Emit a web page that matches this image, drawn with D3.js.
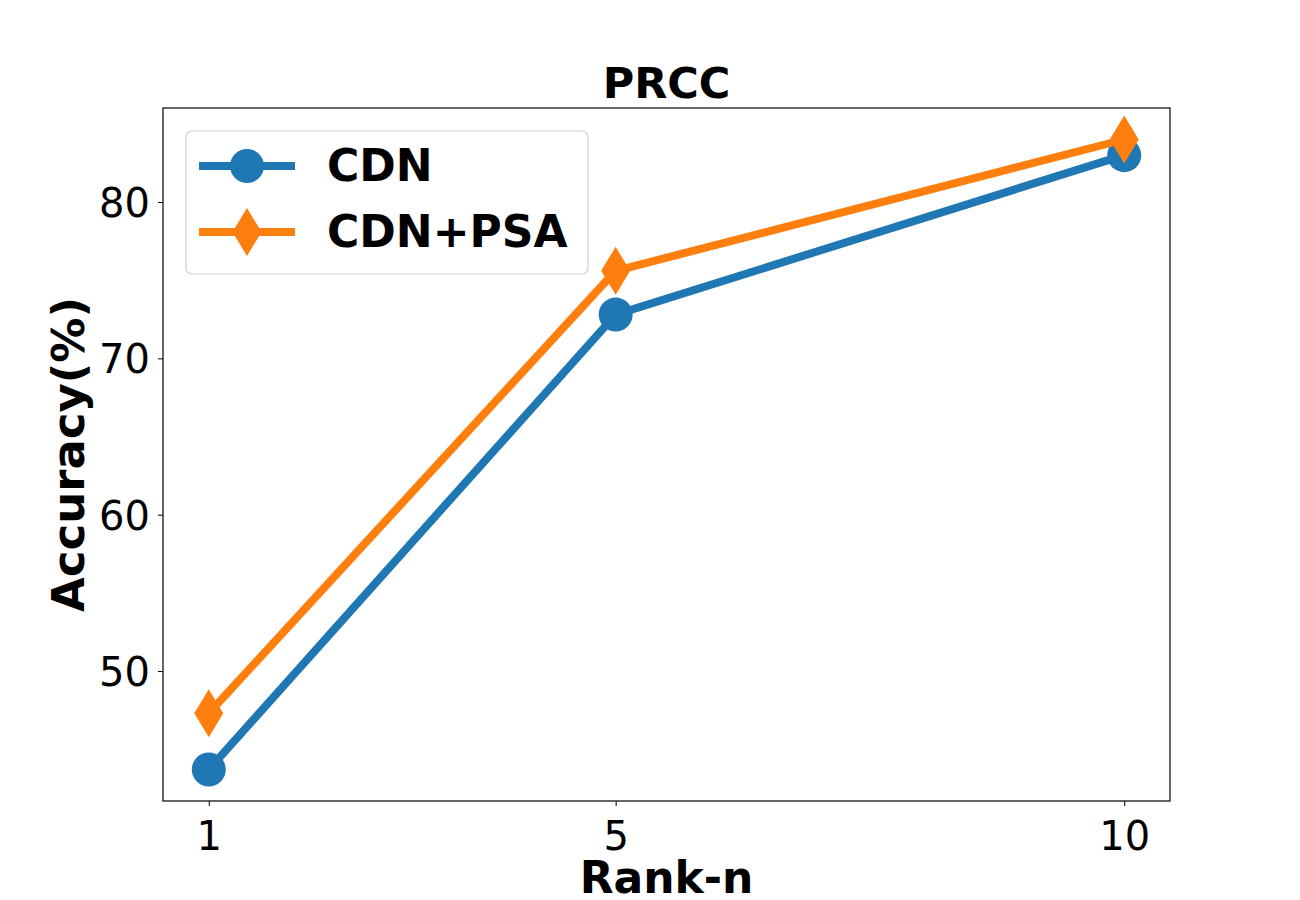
<!DOCTYPE html>
<html>
<head>
<meta charset="utf-8">
<script src="https://cdn.jsdelivr.net/npm/d3@7"></script>
<style>
  body { margin: 0; background: #fff; }
  text { font-family: "DejaVu Sans", sans-serif; }
</style>
</head>
<body>
<script>
// data
var ranks = [1, 5, 10];
var cdn = [43.7, 72.8, 83.0];
var cdnPsa = [47.3, 75.6, 84.0];
var seriesNames = ["CDN", "CDN+PSA"];
var yTicks = [50, 60, 70, 80];

var width = 1300, height = 900;
var margin = {left: 163, right: 130, top: 108, bottom: 99};

var svg = d3.select("body").append("svg")
    .attr("width", width)
    .attr("height", height)
    .style("background-color", "#fff");

// matplotlib style 5% padding on both axes
var xmin = d3.min(ranks), xmax = d3.max(ranks);
var xpad = (xmax - xmin) * 0.05;
var allY = cdn.concat(cdnPsa);
var ymin = d3.min(allY), ymax = d3.max(allY);
var ypad = (ymax - ymin) * 0.05;

var x = d3.scaleLinear()
    .domain([xmin - xpad, xmax + xpad])
    .range([margin.left, width - margin.right]);
var y = d3.scaleLinear()
    .domain([ymin - ypad, ymax + ypad])
    .range([height - margin.bottom, margin.top]);

// axes
var xAxis = svg.append("g")
    .attr("transform", "translate(0," + (height - margin.bottom) + ")")
    .call(d3.axisBottom(x).tickValues(ranks).tickSize(5).tickPadding(8));
var yAxis = svg.append("g")
    .attr("transform", "translate(" + margin.left + ",0)")
    .call(d3.axisLeft(y).tickValues(yTicks).tickSize(5).tickPadding(8));

[xAxis, yAxis].forEach(function(g) {
    g.select(".domain").remove();
    g.selectAll(".tick line").attr("stroke", "#000").attr("stroke-width", 1);
    g.selectAll(".tick text")
        .attr("fill", "#000")
        .style("font-family", "DejaVu Sans")
        .style("font-size", "40px");
});
xAxis.selectAll(".tick text").attr("dy", "0.9em");
yAxis.selectAll(".tick text").attr("dy", "0.36em");

// frame
svg.append("rect")
    .attr("x", margin.left)
    .attr("y", margin.top)
    .attr("width", width - margin.left - margin.right)
    .attr("height", height - margin.top - margin.bottom)
    .attr("fill", "none")
    .attr("stroke", "#000")
    .attr("stroke-width", 1.2);

var colors = ["#1f77b4", "#ff7f0e"];
var series = [cdn, cdnPsa];

var line = d3.line()
    .x(function(d, i) { return x(ranks[i]); })
    .y(function(d) { return y(d); });

function diamond(cx, cy) {
    var h = 24, w = 14.5;
    return "M" + cx + "," + (cy - h) + " L" + (cx + w) + "," + cy +
        " L" + cx + "," + (cy + h) + " L" + (cx - w) + "," + cy + " Z";
}

series.forEach(function(vals, s) {
    svg.append("path")
        .attr("d", line(vals))
        .attr("fill", "none")
        .attr("stroke", colors[s])
        .attr("stroke-width", 8)
        .attr("stroke-linejoin", "round");
    if (s === 0) {
        svg.selectAll(".m0").data(vals).enter().append("circle")
            .attr("cx", function(d, i) { return x(ranks[i]); })
            .attr("cy", function(d) { return y(d); })
            .attr("r", 17)
            .attr("fill", colors[s]);
    } else {
        svg.selectAll(".m1").data(vals).enter().append("path")
            .attr("d", function(d, i) { return diamond(x(ranks[i]), y(d)); })
            .attr("fill", colors[s]);
    }
});

// title and axis labels
svg.append("text")
    .attr("x", (margin.left + width - margin.right) / 2)
    .attr("y", 98)
    .attr("text-anchor", "middle")
    .style("font-size", "43px")
    .style("font-weight", "bold")
    .text("PRCC");

svg.append("text")
    .attr("x", (margin.left + width - margin.right) / 2)
    .attr("y", 893)
    .attr("text-anchor", "middle")
    .style("font-size", "44px")
    .style("font-weight", "bold")
    .text("Rank-n");

svg.append("text")
    .attr("transform", "translate(84," + ((margin.top + height - margin.bottom) / 2) + ") rotate(-90)")
    .attr("text-anchor", "middle")
    .style("font-size", "45px")
    .style("font-weight", "bold")
    .text("Accuracy(%)");

// legend
var legend = svg.append("g");
legend.append("rect")
    .attr("x", 186)
    .attr("y", 131)
    .attr("width", 402)
    .attr("height", 143)
    .attr("rx", 6)
    .attr("fill", "#fff")
    .attr("fill-opacity", 0.8)
    .attr("stroke", "#d0d0d0")
    .attr("stroke-width", 1.2);

seriesNames.forEach(function(name, i) {
    var ly = 166 + i * 66;
    legend.append("line")
        .attr("x1", 199).attr("x2", 295)
        .attr("y1", ly).attr("y2", ly)
        .attr("stroke", colors[i])
        .attr("stroke-width", 8);
    if (i === 0) {
        legend.append("circle").attr("cx", 247).attr("cy", ly).attr("r", 17).attr("fill", colors[i]);
    } else {
        legend.append("path").attr("d", diamond(247, ly)).attr("fill", colors[i]);
    }
    legend.append("text")
        .attr("x", 327)
        .attr("y", ly + 15)
        .style("font-size", "44px")
        .style("font-weight", "bold")
        .text(name);
});
</script>
</body>
</html>
